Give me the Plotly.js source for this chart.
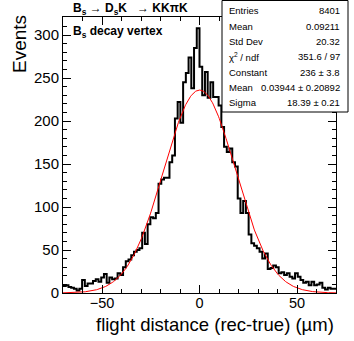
<!DOCTYPE html>
<html>
<head>
<meta charset="utf-8">
<script src="https://cdn.plot.ly/plotly-3.0.1.min.js"></script>
<style>html,body{margin:0;padding:0;background:#fff}</style>
</head>
<body>
<div id="chart" style="width:354px;height:341px"></div>
<script>
// histogram: 100 bins from -70 to 70 um
const binLo = -70;
const binHi = 70;
const counts = [
  8, 9, 7, 6, 5, 3, 5, 15, 8, 11,
  11, 14, 16, 13, 18, 22, 12, 18, 16, 17,
  23, 21, 30, 37, 39, 44, 48, 50, 52, 70,
  57, 80, 88, 87, 93, 127, 132, 134, 134, 152,
  160, 203, 222, 198, 245, 256, 274, 238, 285, 308,
  263, 230, 257, 227, 245, 228, 228, 218, 193, 170,
  164, 168, 152, 147, 110, 93, 107, 93, 68, 58,
  55, 52, 48, 40, 46, 28, 29, 32, 30, 23,
  24, 21, 23, 19, 17, 23, 19, 15, 12, 13,
  9, 13, 9, 10, 12, 6, 4, 6, 5, 5
];

// gaussian fit parameters (from the stats box)
const fitConst = 236;
const fitMean = 0.03944;
const fitSigma = 18.39;

// stats box
const statLabels = ['Entries', 'Mean', 'Std Dev', 'χ<sup>2</sup> / ndf', 'Constant', 'Mean', 'Sigma'];
const statValues = ['8401', '0.09211', '20.32', '351.6 / 97', '236 ± 3.8', '0.03944 ± 0.20892', '18.39 ± 0.21'];

const xTicks = [-50, 0, 50];
const yTicks = [0, 50, 100, 150, 200, 250, 300];

// step outline from bin edges
const binW = (binHi - binLo) / counts.length;
const edges = counts.map((c, i) => binLo + i * binW).concat([binHi]);
const stepY = counts.concat([counts[counts.length - 1]]);

const fitX = [];
for (let i = 0; i <= 400; i++) fitX.push(binLo + (binHi - binLo) * i / 400);
const fitY = fitX.map(x => fitConst * Math.exp(-0.5 * Math.pow((x - fitMean) / fitSigma, 2)));

// pixel helpers for the plot frame (63..336 x 17..293)
const L = 63, R = 336, T = 17, B = 293;
const px = v => (v - L) / (R - L);
const py = v => (B - v) / (B - T);

const histTrace = {
  x: edges, y: stepY, type: 'scatter', mode: 'lines',
  line: { shape: 'hv', color: '#000', width: 2 },
  hoverinfo: 'skip'
};
const fitTrace = {
  x: fitX, y: fitY, type: 'scatter', mode: 'lines',
  line: { color: '#ff0000', width: 1 },
  hoverinfo: 'skip'
};

const font = 'Liberation Sans, Arial, sans-serif';
const annotations = [
  { text: '<b>B<sub>s</sub> → D<sub>s</sub>K   → KKπK</b>', x: px(71), y: py(9),
    xanchor: 'left', yanchor: 'middle', font: { size: 12 } },
  { text: '<b>B<sub>s</sub> decay vertex</b>', x: px(71), y: py(32),
    xanchor: 'left', yanchor: 'middle', font: { size: 12 } },
  { text: 'Events', x: px(19), y: py(44), textangle: -90,
    xanchor: 'center', yanchor: 'middle', font: { size: 19 } },
  { text: 'flight distance (rec-true) (µm)', x: px(336), y: py(324),
    xanchor: 'right', yanchor: 'middle', font: { size: 18.5 } }
];
statLabels.forEach((s, i) => {
  const yy = py(11 + 15.3 * i);
  annotations.push({ text: s, x: px(227), y: yy, xanchor: 'left', yanchor: 'middle', font: { size: 9.5 } });
  annotations.push({ text: statValues[i], x: px(342), y: yy, xanchor: 'right', yanchor: 'middle', font: { size: 9.5 } });
});
annotations.forEach(a => { a.xref = 'paper'; a.yref = 'paper'; a.showarrow = false; a.font.family = font; a.font.color = '#000'; });

Plotly.newPlot('chart', [histTrace, fitTrace], {
  width: 354, height: 341, autosize: false,
  margin: { l: L, r: 354 - R, t: T, b: 341 - B, pad: 0 },
  paper_bgcolor: '#fff', plot_bgcolor: '#fff',
  showlegend: false,
  font: { family: font, size: 15, color: '#000' },
  xaxis: {
    range: [binLo, binHi], tickvals: xTicks, ticktext: xTicks.map(v => v < 0 ? '−' + (-v) : String(v)),
    ticks: 'inside', ticklen: 8, tickcolor: '#000', showgrid: false, zeroline: false,
    showline: true, linecolor: '#000', linewidth: 1, mirror: 'ticks',
    minor: { dtick: 10, ticks: 'inside', ticklen: 4, tickcolor: '#000', showgrid: false },
    tickfont: { size: 14.5 }, ticklabelstandoff: -3
  },
  yaxis: {
    range: [0, 321], tickvals: yTicks,
    ticks: 'inside', ticklen: 8, tickcolor: '#000', showgrid: false, zeroline: false,
    showline: true, linecolor: '#000', linewidth: 1, mirror: 'ticks',
    minor: { dtick: 10, ticks: 'inside', ticklen: 4, tickcolor: '#000', showgrid: false },
    tickfont: { size: 15 }
  },
  shapes: [
    { type: 'rect', xref: 'paper', yref: 'paper', layer: 'above',
      x0: px(222), x1: px(348), y0: py(112), y1: py(0.5),
      fillcolor: '#fff', line: { color: '#000', width: 1 } }
  ],
  annotations: annotations
}, { staticPlot: true });
</script>
</body>
</html>
